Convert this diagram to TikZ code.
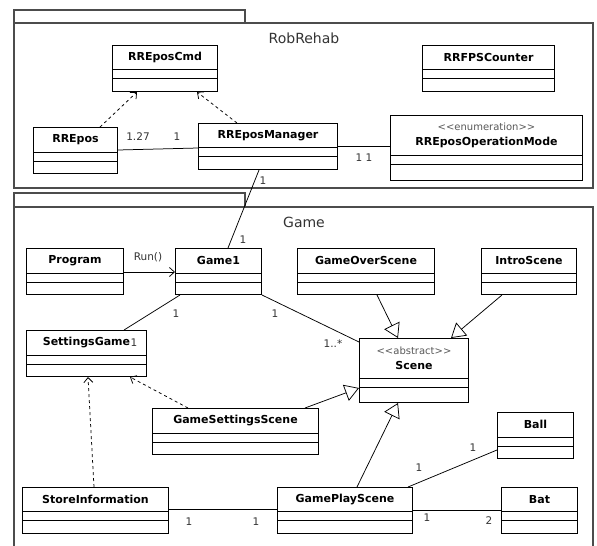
\documentclass[tikz,border=0pt]{standalone}
\usepackage{fontspec}
\setmainfont{DejaVu Sans}
\usetikzlibrary{arrows.meta, calc}

\newcommand{\umlclass}[6]{% id, top-left, width, title height, total height, title
  \node[classbox, minimum width=#3pt, minimum height=#5pt] (#1) at (#2) {};
  \node[classtitle, minimum height=#4pt] (#1 title) at (#1.north) {#6};
  \draw[classbox] (#1 title.south -| #1.west) -- (#1 title.south -| #1.east);
  \draw[classbox] ($(#1 title.south -| #1.west)+(0,9)$) -- ($(#1 title.south -| #1.east)+(0,9)$);
}
\newcommand{\stereotype}[1]{{\color{black!65}\fontsize{10}{12}\selectfont\mdseries<{}<#1>{}>}}

\begin{document}
\begin{tikzpicture} [
    x=1pt, y=-1pt,
    package/.style={draw=black!70, line width=1.1pt},
    classbox/.style={draw, line width=1pt, anchor=north west, inner sep=0pt},
    classtitle/.style={anchor=north, inner sep=0pt, align=center, font=\fontsize{11}{15}\selectfont\bfseries},
    pkglabel/.style={font=\fontsize{14}{16}\selectfont, text=black!80},
    mult/.style={font=\fontsize{10.5}{12}\selectfont, text=black!80, inner sep=0pt},
    assoc/.style={draw, line width=0.75pt},
    depend/.style={draw, line width=0.75pt, dashed, -{Straight Barb[length=5pt, width=9pt]}},
    navig/.style={draw, line width=0.75pt, -{Straight Barb[length=5pt, width=9pt]}},
    general/.style={draw, line width=0.75pt, -{Triangle[open, length=14pt, width=17pt]}}
]
    \useasboundingbox (0,0) rectangle (597,546);
    \clip (0,0) rectangle (597,546);
    \fill[white] (0,0) rectangle (597,546);

    % Packages
    \draw[package] (14,10) rectangle (245,23);
    \draw[package] (14,23) rectangle (593,188);
    \node[pkglabel] (robrehab) at (304,38) {RobRehab};

    \draw[package] (14,193) rectangle (245,207);
    \draw[package] (14,207) rectangle (593,560);
    \node[pkglabel] (game) at (304,222) {Game};

    % Classes in RobRehab
    \umlclass{cmd}{112,45}{105}{24}{46}{RREposCmd}
    \umlclass{fps}{422,45}{132}{24}{46}{RRFPSCounter}
    \umlclass{repos}{33,127}{84}{25}{46}{RREpos}
    \umlclass{manager}{198,123}{139}{24}{46}{RREposManager}
    \umlclass{opmode}{390,115}{192}{40}{65}{\stereotype{enumeration}\\RREposOperationMode}

    % Classes in Game
    \umlclass{program}{26,248}{97}{25}{46}{Program}
    \umlclass{game1}{175,248}{86}{25}{46}{Game1}
    \umlclass{over}{297,248}{137}{25}{46}{GameOverScene}
    \umlclass{intro}{481,248}{95}{25}{46}{IntroScene}
    \umlclass{settings}{26,330}{120}{25}{46}{SettingsGame}
    \umlclass{scene}{359,338}{109}{40}{64}{\stereotype{abstract}\\Scene}
    \umlclass{gss}{152,408}{166}{25}{46}{GameSettingsScene}
    \umlclass{ball}{497,412}{76}{25}{46}{Ball}
    \umlclass{store}{22,487}{146}{24}{46}{StoreInformation}
    \umlclass{play}{277,487}{135}{24}{46}{GamePlayScene}
    \umlclass{bat}{501,487}{76}{24}{46}{Bat}

    % Relations in RobRehab
    \path[depend] ([xshift=67pt]repos.north west) -- ([xshift=25pt]cmd.south west);
    \path[depend] ([xshift=39pt]manager.north west) -- ([xshift=85pt]cmd.south west);
    \path[assoc] ([yshift=-23pt]repos.north east) -- ([yshift=-25pt]manager.north west);
    \node[mult] (m1) at (138,137) {1.27};
    \node[mult] (m2) at (177,137) {1};
    \path[assoc] ([yshift=-23pt]manager.north east) -- ([yshift=-31pt]opmode.north west);
    \node[mult] (m3) at (364,158) {1 1};

    % Relations across packages
    \path[assoc] ([xshift=61pt]manager.south west) -- ([xshift=53pt]game1.north west);
    \node[mult] (m4) at (263,181) {1};
    \node[mult] (m5) at (243,240) {1};

    % Relations in Game
    \path[navig] ([yshift=-24pt]program.north east) -- ([yshift=-24pt]game1.north west);
    \node[mult] (run) at (148,257) {Run()};
    \path[assoc] ([xshift=5pt]game1.south west) -- ([xshift=98pt]settings.north west);
    \node[mult] (m6) at (176,314) {1};
    \node[mult] (m7) at (134,343) {1};
    \path[assoc] (game1.south east) -- ([yshift=-4pt]scene.north west);
    \node[mult] (m8) at (275,314) {1};
    \node[mult] (m9) at (333,344) {1..*};

    \path[general] ([xshift=80pt]over.south west) -- ([xshift=39pt]scene.north west);
    \path[general] ([xshift=21pt]intro.south west) -- ([xshift=92pt]scene.north west);
    \path[general] ([xshift=153pt]gss.north west) -- ([yshift=-50pt]scene.north west);
    \path[general] ([xshift=80pt]play.north west) -- ([xshift=39pt]scene.south west);

    \path[depend] ([xshift=36pt]gss.north west) -- ([xshift=104pt]settings.south west);
    \path[depend] ([xshift=72pt]store.north west) -- ([xshift=62pt]settings.south west);

    \path[assoc] ([yshift=-22pt]store.north east) -- ([yshift=-22pt]play.north west);
    \node[mult] (m10) at (189,522) {1};
    \node[mult] (m11) at (256,522) {1};
    \path[assoc] ([xshift=-5pt]play.north east) -- ([yshift=-38pt]ball.north west);
    \node[mult] (m12) at (419,468) {1};
    \node[mult] (m13) at (473,448) {1};
    \path[assoc] ([yshift=-23pt]play.north east) -- ([yshift=-23pt]bat.north west);
    \node[mult] (m14) at (427,518) {1};
    \node[mult] (m15) at (489,521) {2};
\end{tikzpicture}
\end{document}
